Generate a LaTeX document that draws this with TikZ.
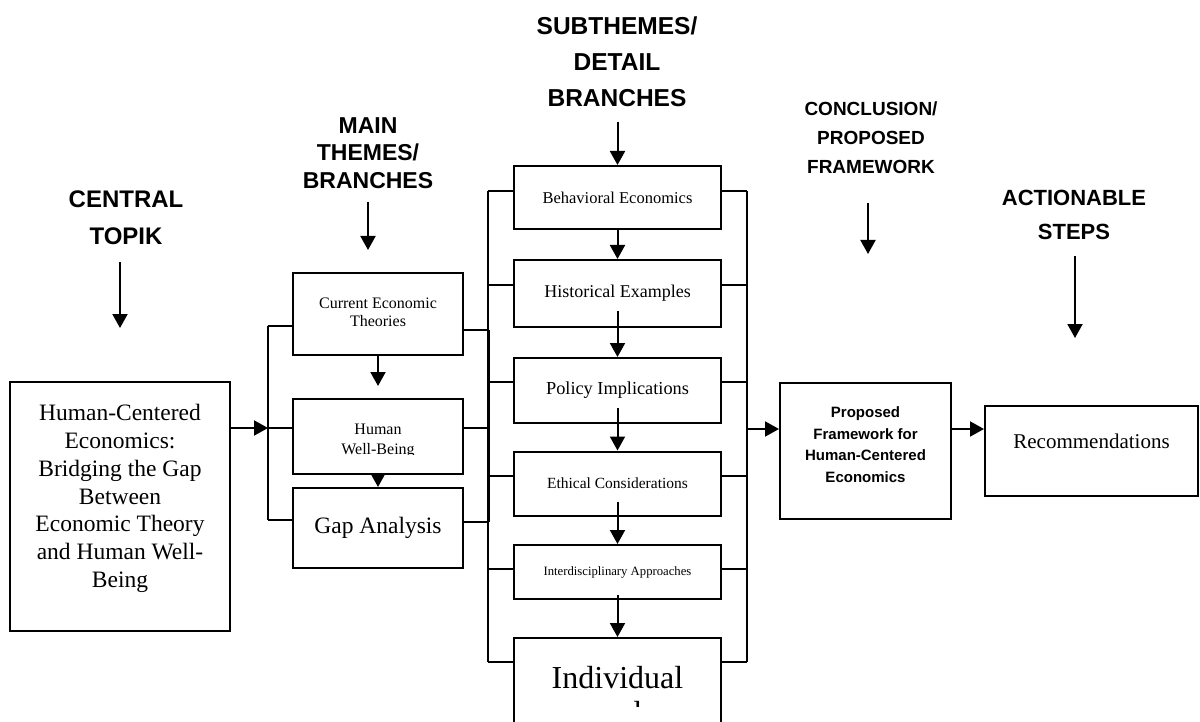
\documentclass[tikz,border=0pt]{standalone}
\usepackage{fontspec}
\setmainfont{Liberation Serif}
\newfontfamily\hsans{Liberation Sans}
\usetikzlibrary{arrows.meta,calc}
\newcommand\fs[2]{\fontsize{#1}{#2}\selectfont}
\newcommand\blk[2]{\raisebox{#1}[\height][\depth]{\begin{tabular}{@{}c@{}}#2\end{tabular}}}
\begin{document}
\begin{tikzpicture}[x=1pt,y=-1pt,
  box/.style={draw, rectangle, inner sep=0pt, line width=2pt, anchor=center},
  head/.style={align=center, inner sep=0pt},
  arr/.style={-{Triangle[length=14pt,width=15pt]}, line width=2pt},
  link/.style={line width=2pt}]
\useasboundingbox (0,0) rectangle (1200,722);
\clip (0,0) rectangle (1200,722);

% headers
\node[head, font=\hsans\bfseries\fs{24}{37}] (ct) at (126,218) {CENTRAL\\TOPIK};
\node[head, font=\hsans\bfseries\fs{23}{27.5}] (mt) at (368,153) {MAIN\\THEMES/\\BRANCHES};
\node[head, font=\hsans\bfseries\fs{24.5}{36}] (st) at (617,62) {SUBTHEMES/\\DETAIL\\BRANCHES};
\node[head, font=\hsans\bfseries\fs{19}{29}] (cf) at (871,138) {CONCLUSION/\\PROPOSED\\FRAMEWORK};
\node[head, font=\hsans\bfseries\fs{22}{34}] (as) at (1074,215) {ACTIONABLE\\STEPS};

% boxes
\node[box, minimum width=220pt, minimum height=249pt] (central) at (120,506.5)
  {\fs{23.5}{27.8}\blk{8pt}{Human-Centered\\Economics:\\Bridging the Gap\\Between\\Economic Theory\\and Human Well-\\Being}};
\node[box, minimum width=170pt, minimum height=82pt] (cet) at (378,314)
  {\fs{16}{18}\blk{0pt}{Current Economic\\Theories}};
\node[box, minimum width=170pt, minimum height=75pt] (hwb) at (378,436.5) {};
\begin{scope}
  \clip (294,400) rectangle (462,454);
  \node[inner sep=0pt, align=center, font=\fs{16}{20}] (hwbt) at (378,441) {Human\\Well-Being};
\end{scope}
\node[box, minimum width=170pt, minimum height=80pt] (gap) at (378,528)
  {\fs{23.5}{28}Gap Analysis};

\node[box, minimum width=207pt, minimum height=63pt] (beh) at (617.5,197.5)
  {\fs{16.5}{20}\blk{-2pt}{Behavioral Economics}};
\node[box, minimum width=207pt, minimum height=67pt] (hist) at (617.5,293.5)
  {\fs{18}{22}Historical Examples};
\node[box, minimum width=207pt, minimum height=65pt] (pol) at (617.5,390.5)
  {\fs{18.3}{22}Policy Implications};
\node[box, minimum width=207pt, minimum height=64pt] (eth) at (617.5,483.5)
  {\fs{15.5}{19}Ethical Considerations};
\node[box, minimum width=207pt, minimum height=54pt] (int) at (617.5,572)
  {\fs{12.7}{15}Interdisciplinary Approaches};
\node[box, minimum width=207pt, minimum height=100pt] (ind) at (617.5,688) {};
\begin{scope}
  \clip (516,641) rectangle (719,706);
  \node[inner sep=0pt, align=center, font=\fs{32}{35}] (indt) at (617.5,695.5) {Individual\\needs};
\end{scope}

\node[box, minimum width=171pt, minimum height=136pt] (prop) at (865.5,451)
  {\hsans\bfseries\fs{15}{21.5}\blk{5.5pt}{Proposed\\Framework for\\Human-Centered\\Economics}};
\node[box, minimum width=213pt, minimum height=90pt] (rec) at (1091.5,451)
  {\fs{21}{25}\blk{8pt}{Recommendations}};

% header arrows
\coordinate (ctA) at (120,262); \coordinate (ctB) at (120,328);
\coordinate (mtA) at (368,202); \coordinate (mtB) at (368,250);
\coordinate (stA) at (617.5,122);
\coordinate (cfA) at (868,203); \coordinate (cfB) at (868,254);
\coordinate (asA) at (1075,256); \coordinate (asB) at (1075,338);
\draw[arr] (ctA) -- (ctB);
\draw[arr] (mtA) -- (mtB);
\draw[arr] (stA) -- (beh.north);
\draw[arr] (cfA) -- (cfB);
\draw[arr] (asA) -- (asB);

% main theme buses
\coordinate (mL1) at (268,326); \coordinate (mL2) at (268,428); \coordinate (mL3) at (268,520);
\draw[link] (mL1) -- (mL3);
\draw[link] (mL1) -- (cet.west |- mL1);
\draw[link] (mL2) -- (hwb.west |- mL2);
\draw[link] (mL3) -- (gap.west |- mL3);
\draw[arr] (central.east |- mL2) -- (mL2);

\coordinate (mR1) at (489,330); \coordinate (mR2) at (489,428); \coordinate (mR3) at (489,522);
\draw[link] (mR1) -- (mR3);
\draw[link] (cet.east |- mR1) -- (mR1);
\draw[link] (hwb.east |- mR2) -- (mR2);
\draw[link] (gap.east |- mR3) -- (mR3);

\draw[arr] (cet.south) -- ([yshift=12pt]hwb.north);
\draw[arr] (hwb.south) -- (gap.north);

% detail buses
\coordinate (dL1) at (488,191); \coordinate (dL2) at (488,285); \coordinate (dL3) at (488,382);
\coordinate (dL4) at (488,476); \coordinate (dL5) at (488,569); \coordinate (dL6) at (488,662);
\draw[link] (dL1) -- (dL6);
\draw[link] (dL1) -- (beh.west |- dL1);
\draw[link] (dL2) -- (hist.west |- dL2);
\draw[link] (dL3) -- (pol.west |- dL3);
\draw[link] (dL4) -- (eth.west |- dL4);
\draw[link] (dL5) -- (int.west |- dL5);
\draw[link] (dL6) -- (ind.west |- dL6);

\coordinate (dR1) at (747,191); \coordinate (dR2) at (747,285); \coordinate (dR3) at (747,382);
\coordinate (dR4) at (747,476); \coordinate (dR5) at (747,569); \coordinate (dR6) at (747,662);
\draw[link] (dR1) -- (dR6);
\draw[link] (beh.east |- dR1) -- (dR1);
\draw[link] (hist.east |- dR2) -- (dR2);
\draw[link] (pol.east |- dR3) -- (dR3);
\draw[link] (eth.east |- dR4) -- (dR4);
\draw[link] (int.east |- dR5) -- (dR5);
\draw[link] (ind.east |- dR6) -- (dR6);

\draw[arr] (beh.south) -- (hist.north);
\draw[arr] ([yshift=17pt]hist.south) -- (pol.north);
\draw[arr] ([yshift=16pt]pol.south) -- (eth.north);
\draw[arr] ([yshift=15pt]eth.south) -- (int.north);
\draw[arr] ([yshift=5pt]int.south) -- (ind.north);

% to conclusion
\coordinate (dRa) at (747,429);
\draw[arr] (dRa) -- (prop.west |- dRa);
\draw[arr] (prop.east |- dRa) -- (rec.west |- dRa);
\end{tikzpicture}
\end{document}
